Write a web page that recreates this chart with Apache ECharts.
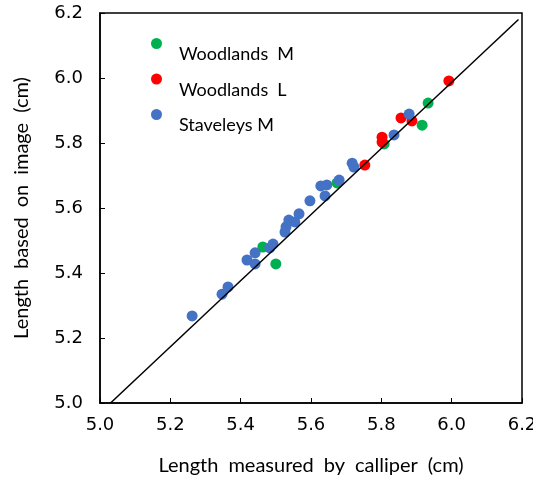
<!DOCTYPE html>
<html>
<head>
<meta charset="utf-8">
<script src="https://cdn.jsdelivr.net/npm/echarts@6/dist/echarts.min.js"></script>
<style>html,body{margin:0;padding:0;background:#fff}#c{width:533px;height:485px}</style>
</head>
<body>
<div id="c"></div>
<script>
const xTicks = [5.0, 5.2, 5.4, 5.6, 5.8, 6.0, 6.2];
const yTicks = [5.0, 5.2, 5.4, 5.6, 5.8, 6.0, 6.2];
const seriesNames = ["Woodlands\u2002M", "Woodlands\u2002L", "Staveleys M\u2002"];
const xTitle = "Length\u2002measured\u2002by\u2002calliper\u2002(cm)";
const yTitle = "Length\u2002based\u2002on\u2002image\u2002(cm)";
const woodlandsM = [[5.463,5.480],[5.500,5.428],[5.674,5.677],[5.808,5.797],[5.916,5.855],[5.933,5.923]];
const woodlandsL = [[5.753,5.732],[5.802,5.818],[5.802,5.803],[5.856,5.877],[5.887,5.868],[5.992,5.991]];
const staveleysM = [[5.262,5.268],[5.347,5.335],[5.364,5.357],[5.418,5.440],[5.441,5.462],[5.441,5.428],
  [5.483,5.477],[5.492,5.489],[5.526,5.526],[5.529,5.542],[5.537,5.563],[5.554,5.557],[5.566,5.582],
  [5.597,5.622],[5.628,5.668],[5.645,5.671],[5.640,5.637],[5.680,5.686],[5.717,5.738],[5.722,5.726],
  [5.836,5.825],[5.879,5.889]];
const refLine = [[5.03,5.0],[6.19,6.18]];
const colors = ["#00B050", "#FF0000", "#4472C4"];

const chart = echarts.init(document.getElementById('c'));
const axisFont = {fontFamily: 'DejaVu Sans', fontSize: 18, color: '#000'};
chart.setOption({
  animation: false,
  grid: {left: 100, top: 13, right: 11, bottom: 82, show: true, borderColor: '#000', borderWidth: 1.5,
    outerBoundsMode: 'none', containLabel: false},
  legend: {
    orient: 'vertical', left: 146, top: 33, itemGap: 10, itemWidth: 11, itemHeight: 11,
    data: seriesNames.map(n => ({name: n, icon: 'circle'})),
    formatter: n => '{a|' + n + '}',
    textStyle: {fontFamily: 'Lato', fontSize: 18, color: '#000',
      rich: {a: {fontFamily: 'Lato', fontSize: 18, color: '#000', padding: [22, 0, 0, 12]}}}
  },
  xAxis: {
    type: 'value', min: 5.0, max: 6.2, interval: 0.2,
    name: xTitle, nameLocation: 'middle', nameGap: 53,
    nameTextStyle: {fontFamily: 'Lato', fontSize: 20, color: '#000'},
    axisLine: {lineStyle: {color: '#000', width: 1.5}},
    axisTick: {inside: true, length: 5, lineStyle: {color: '#000'}},
    axisLabel: Object.assign({margin: 13, formatter: v => v.toFixed(1)}, axisFont),
    splitLine: {show: false}
  },
  yAxis: {
    type: 'value', min: 5.0, max: 6.2, interval: 0.2,
    name: yTitle, nameLocation: 'middle', nameGap: 68,
    nameTextStyle: {fontFamily: 'Lato', fontSize: 20, color: '#000'},
    axisLine: {lineStyle: {color: '#000', width: 1.5}},
    axisTick: {inside: true, length: 5, lineStyle: {color: '#000'}},
    axisLabel: Object.assign({margin: 17, formatter: v => v.toFixed(1)}, axisFont),
    splitLine: {show: false}
  },
  series: [
    {name: seriesNames[0], type: 'scatter', data: woodlandsM, symbolSize: 11, itemStyle: {color: colors[0], opacity: 1}, z: 3},
    {name: seriesNames[1], type: 'scatter', data: woodlandsL, symbolSize: 11, itemStyle: {color: colors[1], opacity: 1}, z: 3},
    {name: seriesNames[2], type: 'scatter', data: staveleysM, symbolSize: 11, itemStyle: {color: colors[2], opacity: 1}, z: 3},
    {type: 'line', data: refLine, symbol: 'none', lineStyle: {color: '#000', width: 1.5}, z: 4, silent: true}
  ]
});
</script>
</body>
</html>
